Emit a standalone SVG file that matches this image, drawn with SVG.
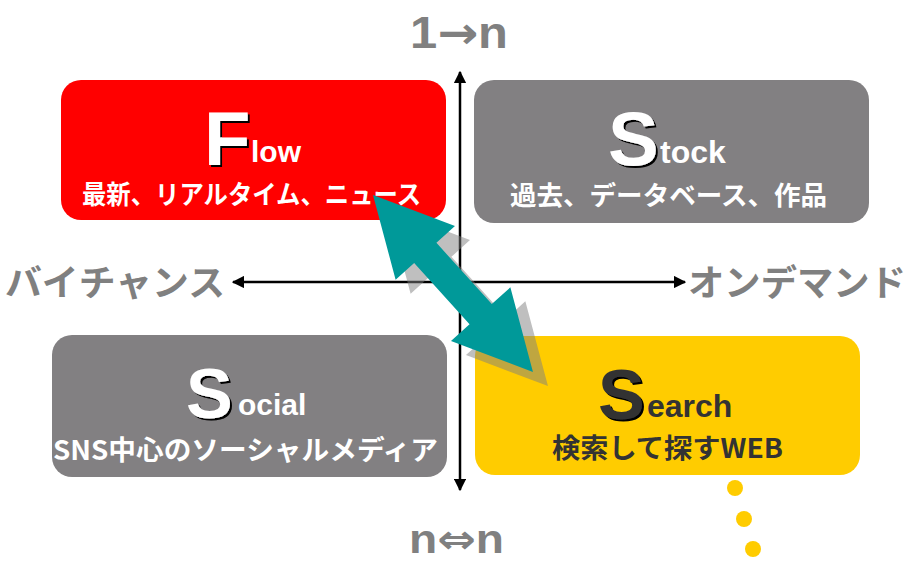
<svg xmlns="http://www.w3.org/2000/svg" width="912" height="565" viewBox="0 0 912 565">
<style>
  .t { font-family: "Liberation Sans", "Noto Sans CJK JP", sans-serif; font-weight: bold; }
  .j { font-family: "Noto Sans CJK JP", "Liberation Sans", sans-serif; font-weight: bold; }
  .d { font-family: "DejaVu Sans", sans-serif; font-weight: bold; }
  .gray { fill: #808080; }
  .box-gray { fill: #828082; }
  .big { filter: url(#sh); }
  .axis { stroke: #000; stroke-width: 2.5; fill: none; marker-start: url(#ah); marker-end: url(#ah); }
</style>
<defs>
  <filter id="sh" x="-20%" y="-20%" width="140%" height="140%">
    <feOffset in="SourceAlpha" dx="2" dy="2" result="o"/>
    <feFlood flood-color="#000"/>
    <feComposite in2="o" operator="in" result="s"/>
    <feMerge><feMergeNode in="s"/><feMergeNode in="SourceGraphic"/></feMerge>
  </filter>
  <marker id="ah" viewBox="0 0 10 10" refX="9" refY="5" markerWidth="5" markerHeight="5" orient="auto-start-reverse" markerUnits="strokeWidth">
    <path d="M0,0 L10,5 L0,10 z" fill="#000"/>
  </marker>
  <polygon id="dbl" points="0,0 78,-40 78,-15 160.6,-15 160.6,-40 238.6,0 160.6,40 160.6,15 78,15 78,40"/>
</defs>
<rect width="912" height="565" fill="#fff"/>

<g id="axis-labels">
  <text class="t gray" x="410" y="48" font-size="44" textLength="98" lengthAdjust="spacingAndGlyphs">1<tspan class="d">→</tspan>n</text>
  <text class="t gray" x="409" y="553" font-size="40" textLength="95" lengthAdjust="spacingAndGlyphs">n<tspan class="d">⇔</tspan>n</text>
  <text class="j gray" x="5" y="296" font-size="36" textLength="220" lengthAdjust="spacingAndGlyphs">バイチャンス</text>
  <text class="j gray" x="688" y="296" font-size="36" textLength="218" lengthAdjust="spacingAndGlyphs">オンデマンド</text>
</g>

<g id="flow">
  <rect x="61" y="80" width="385" height="140" rx="20" fill="#ff0000"/>
  <text class="t big" x="204" y="165" font-size="76" fill="#fff">F</text>
  <text class="t" x="251" y="162" font-size="30" fill="#fff">low</text>
  <text class="j" x="82" y="204" font-size="26" fill="#fff" textLength="339" lengthAdjust="spacingAndGlyphs">最新、リアルタイム、ニュース</text>
</g>

<g id="stock">
  <rect x="474" y="80" width="395" height="143" rx="20" class="box-gray"/>
  <text class="t big" x="608" y="165" font-size="76" fill="#fff">S</text>
  <text class="t" x="660" y="163" font-size="32" fill="#fff">tock</text>
  <text class="j" x="510" y="205" font-size="26" fill="#fff" textLength="317" lengthAdjust="spacingAndGlyphs">過去、データベース、作品</text>
</g>

<g id="social">
  <rect x="52" y="335" width="395" height="142" rx="20" class="box-gray"/>
  <text class="t big" x="186" y="418" font-size="70" fill="#fff">S</text>
  <text class="t" x="238" y="415" font-size="30" fill="#fff">ocial</text>
  <text class="j" x="53" y="460" font-size="27" fill="#fff" textLength="385" lengthAdjust="spacingAndGlyphs">SNS中心のソーシャルメディア</text>
</g>

<g id="search">
  <rect x="475" y="336" width="385" height="139" rx="20" fill="#ffcc00"/>
  <text class="t big" x="598" y="419" font-size="70" fill="#333">S</text>
  <text class="t" x="647" y="417" font-size="32" fill="#333">earch</text>
  <text class="j" x="552" y="458" font-size="27" fill="#333" textLength="231" lengthAdjust="spacingAndGlyphs">検索して探すWEB</text>
  <circle cx="735" cy="488" r="8" fill="#ffcc00"/>
  <circle cx="744" cy="519" r="8" fill="#ffcc00"/>
  <circle cx="753" cy="549" r="8" fill="#ffcc00"/>
</g>

<g id="connectors">
  <line class="axis" x1="460" y1="490" x2="460" y2="72"/>
  <line class="axis" x1="233" y1="282" x2="685" y2="282"/>
  <use href="#dbl" transform="translate(388,209) rotate(47.9)" fill="#808080" fill-opacity="0.5"/>
  <use href="#dbl" transform="translate(373,195) rotate(47.9)" fill="#009999"/>
</g>
</svg>
